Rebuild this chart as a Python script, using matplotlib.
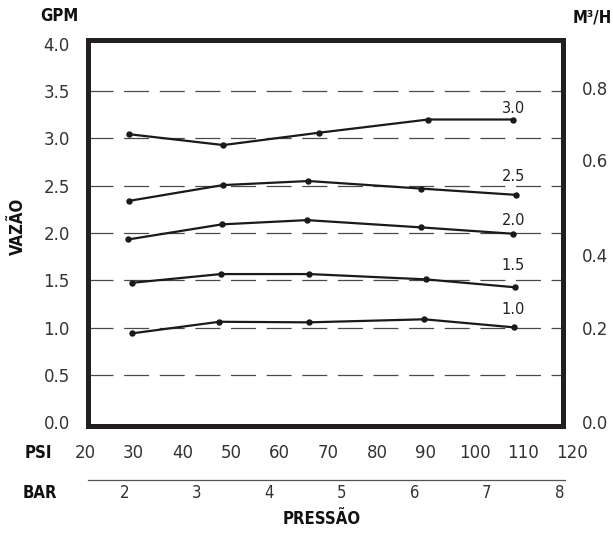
import matplotlib
matplotlib.use("Agg")
import matplotlib.pyplot as plt
from matplotlib import font_manager

# Dados
series_labels = ["3.0", "2.5", "2.0", "1.5", "1.0"]
psi_30 = [29.0, 48.4, 68.0, 90.5, 108.0]
gpm_30 = [3.045, 2.93, 3.06, 3.20, 3.20]
psi_25 = [29.0, 48.3, 65.9, 89.1, 108.5]
gpm_25 = [2.34, 2.507, 2.55, 2.47, 2.404]
psi_20 = [28.9, 48.1, 65.6, 89.1, 107.9]
gpm_20 = [1.933, 2.092, 2.137, 2.06, 1.993]
psi_15 = [29.7, 47.9, 66.1, 90.0, 108.4]
gpm_15 = [1.475, 1.567, 1.567, 1.511, 1.427]
psi_10 = [29.7, 47.6, 66.1, 89.7, 108.1]
gpm_10 = [0.941, 1.063, 1.057, 1.089, 1.004]

label_psi = [108.0, 108.0, 108.0, 108.0, 108.0]
label_gpm = [3.315, 2.602, 2.132, 1.662, 1.197]

gpm_ticks = [0.0, 0.5, 1.0, 1.5, 2.0, 2.5, 3.0, 3.5, 4.0]
grid_levels = [0.5, 1.0, 1.5, 2.0, 2.5, 3.0, 3.5]
m3h_labels = ["0.0", "0.2", "0.4", "0.6", "0.8"]
m3h_pos_gpm = [0.0, 0.997, 1.773, 2.768, 3.528]
psi_ticks = [20, 30, 40, 50, 60, 70, 80, 90, 100, 110, 120]
bar_ticks = [2, 3, 4, 5, 6, 7, 8]

# Fontes
names = {f.name for f in font_manager.fontManager.ttflist}
cond_font = "Liberation Sans Narrow" if "Liberation Sans Narrow" in names else "DejaVu Sans"
num_font = "DejaVu Sans"

W, H = 613, 539
fig = plt.figure(figsize=(W / 100, H / 100), dpi=100)


def box(x0, y0, x1, y1):
    # pixel box (top-left origin) -> figure fraction
    return [x0 / W, 1 - y1 / H, (x1 - x0) / W, (y1 - y0) / H]


black = "#231f20"
num_col = "#333333"

ax = fig.add_axes(box(88, 40, 563, 425.5))
ax.set_xlim(20.6, 118.2)
ax.set_ylim(-0.033, 4.04)
for s in ax.spines.values():
    s.set_linewidth(3.6)
    s.set_color(black)
ax.spines["left"].set_zorder(5)

# linhas tracejadas
ax.hlines(grid_levels, 20.6, 118.2, colors="#4a4a4a", linewidth=0.9,
          linestyles=(0, (20, 8.5)), zorder=1)

for xs, ys in [(psi_30, gpm_30), (psi_25, gpm_25), (psi_20, gpm_20),
               (psi_15, gpm_15), (psi_10, gpm_10)]:
    ax.plot(xs, ys, color="#1a1a1a", linewidth=1.6, marker="o",
            markersize=3.6, zorder=3)

for lab, x, y in zip(series_labels, label_psi, label_gpm):
    ax.text(x, y, lab, ha="center", va="center", fontsize=10.5,
            family=num_font, color="#222222", zorder=4)

ax.set_xticks([])
ax.set_yticks(gpm_ticks)
ax.set_yticklabels([f"{v:.1f}" for v in gpm_ticks], family=num_font,
                   fontsize=12, color=num_col)
ax.tick_params(axis="y", length=0, pad=13)

ax2 = ax.twinx()
ax2.set_ylim(ax.get_ylim())
for s in ax2.spines.values():
    s.set_visible(False)
ax2.set_yticks(m3h_pos_gpm)
ax2.set_yticklabels(m3h_labels, family=num_font, fontsize=12, color=num_col)
ax2.tick_params(axis="y", length=0, pad=13.5)

# eixo PSI
ax_psi = fig.add_axes(box(85, 453, 572, 453.01))
ax_psi.set_xlim(20, 120)
ax_psi.set_yticks([])
for s in ax_psi.spines.values():
    s.set_visible(False)
ax_psi.set_xticks(psi_ticks)
ax_psi.set_xticklabels([str(v) for v in psi_ticks], family=num_font,
                       fontsize=12, color=num_col)
ax_psi.tick_params(axis="x", length=0, pad=0)
for t in ax_psi.get_xticklabels():
    t.set_verticalalignment("center")
ax_psi.patch.set_visible(False)

# eixo BAR
ax_bar = fig.add_axes(box(88, 480, 565, 480.01))
ax_bar.set_xlim(1.50, 8.08)
ax_bar.set_yticks([])
for k, s in ax_bar.spines.items():
    s.set_visible(k == "bottom")
ax_bar.spines["bottom"].set_linewidth(0.9)
ax_bar.spines["bottom"].set_color("#555555")
ax_bar.set_xticks(bar_ticks)
ax_bar.set_xticklabels([str(v) for v in bar_ticks], family=cond_font,
                       fontstretch="condensed", fontsize=12, color=num_col)
ax_bar.tick_params(axis="x", length=0, pad=9.4)
for t in ax_bar.get_xticklabels():
    t.set_verticalalignment("center")
ax_bar.patch.set_visible(False)

bold = dict(family=cond_font, fontstretch="condensed", fontweight="bold",
            fontsize=12, color="#111111", ha="center", va="center")
fig.text(59 / W, 1 - 16 / H, "GPM", **bold)
fig.text(592 / W, 1 - 17 / H, "M³/H", **bold)
fig.text(17.5 / W, 1 - 226 / H, "VAZÃO", rotation=90, **bold)
fig.text(38 / W, 1 - 453 / H, "PSI", **bold)
fig.text(40 / W, 1 - 493 / H, "BAR", **bold)
fig.text(322 / W, 1 - 519 / H, "PRESSÃO", **bold)

fig.savefig("out.png", dpi=100)
